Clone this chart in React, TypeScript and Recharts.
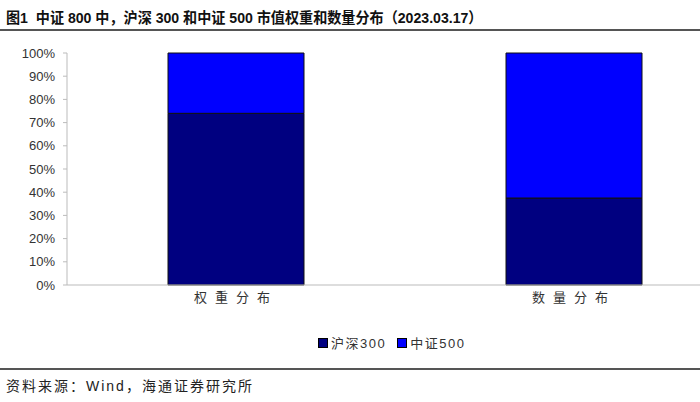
import { Bar, BarChart, XAxis, YAxis } from "recharts";

const categories = ["权重分布", "数量分布"];
const hs300Share = [0.74, 0.375];
const zz500Share = [0.26, 0.625];
const yTicks = [0, 0.1, 0.2, 0.3, 0.4, 0.5, 0.6, 0.7, 0.8, 0.9, 1];

const SERIES = [
  { key: "hs300", name: "沪深300", color: "#000080" },
  { key: "zz500", name: "中证500", color: "#0000ff" },
];

const data = categories.map((label, i) => ({
  label,
  hs300: hs300Share[i],
  zz500: zz500Share[i],
}));

const CJK = '"Liberation Sans", Arial, "Noto Sans CJK SC", sans-serif';

function LegendRow() {
  return (
    <div
      style={{
        position: "absolute",
        left: 318,
        top: 333,
        display: "flex",
        gap: 11,
        fontFamily: CJK,
        fontSize: 13,
        color: "#333",
      }}
    >
      {SERIES.map((s) => (
        <div key={s.key} style={{ display: "flex", alignItems: "center", gap: 3 }}>
          <span
            style={{
              width: 8,
              height: 8,
              background: s.color,
              border: "1px solid #000",
              display: "inline-block",
            }}
          />
          <span style={{ letterSpacing: 1.5 }}>{s.name}</span>
        </div>
      ))}
    </div>
  );
}

export default function App() {
  return (
    <div
      style={{
        position: "absolute",
        left: 0,
        top: 0,
        width: 700,
        height: 402,
        background: "#fff",
        overflow: "hidden",
        fontFamily: CJK,
      }}
    >
      <div
        style={{
          position: "absolute",
          left: 6,
          top: 6,
          fontSize: 15,
          fontWeight: "bold",
          color: "#111",
          whiteSpace: "nowrap",
          transform: "scaleX(0.94)",
          transformOrigin: "left center",
        }}
      >
        图1&nbsp;&nbsp;中证 800 中，沪深 300 和中证 500 市值权重和数量分布（2023.03.17）
      </div>
      <div
        style={{
          position: "absolute",
          left: 0,
          top: 29,
          width: 700,
          height: 0,
          borderTop: "2px solid #555",
        }}
      />

      <div style={{ position: "absolute", left: 0, top: 0 }}>
        <BarChart
          width={760}
          height={320}
          data={data}
          margin={{ top: 53, right: 17, bottom: 0, left: 0 }}
          barSize={136}
        >
          <YAxis
            width={67}
            domain={[0, 1]}
            ticks={yTicks}
            interval={0}
            tickFormatter={(v) => `${Math.round(Number(v) * 100)}%`}
            tick={{ fill: "#333", fontSize: 13, fontFamily: CJK }}
            tickSize={4}
            tickMargin={8}
            stroke="#bbb"
          />
          <XAxis
            dataKey="label"
            height={35}
            tickLine={false}
            stroke="#bbb"
            tick={{ fill: "#333", fontSize: 13, fontFamily: CJK, letterSpacing: 8 }}
          />
          {SERIES.map((s) => (
            <Bar
              key={s.key}
              dataKey={s.key}
              name={s.name}
              stackId="share"
              fill={s.color}
              stroke="#111"
              strokeWidth={1}
              isAnimationActive={false}
            />
          ))}
        </BarChart>
      </div>

      <LegendRow />

      <div
        style={{
          position: "absolute",
          left: 0,
          top: 368,
          width: 700,
          height: 0,
          borderTop: "2px solid #555",
        }}
      />
      <div
        style={{
          position: "absolute",
          left: 6,
          top: 375,
          fontSize: 14,
          letterSpacing: 2,
          color: "#222",
          whiteSpace: "nowrap",
        }}
      >
        资料来源：Wind，海通证券研究所
      </div>
    </div>
  );
}
